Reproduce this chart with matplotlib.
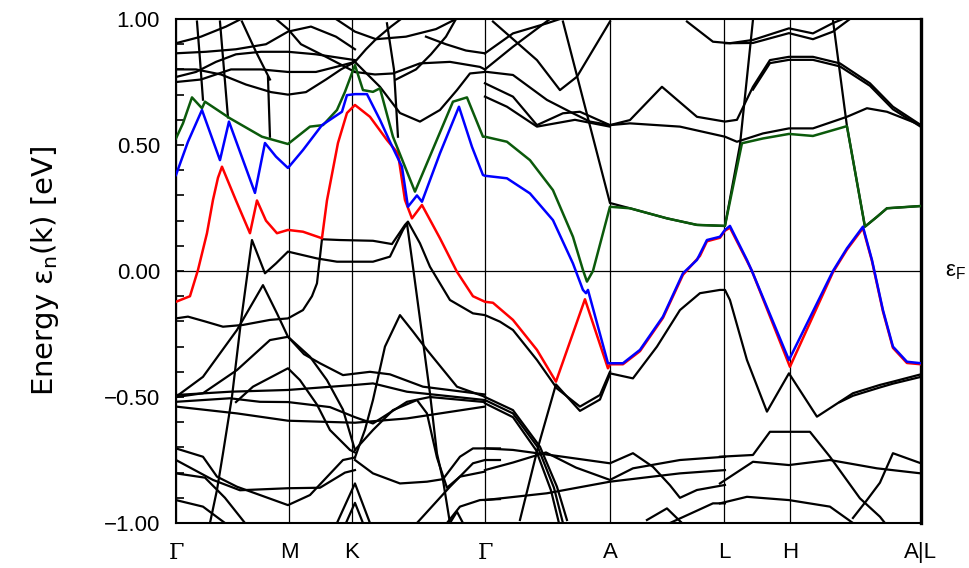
import matplotlib.pyplot as plt

# k-path (k-point index along path) and labels
kticks = [0, 113, 176, 309, 434, 548, 614, 745]
klabels = ["Γ", "M", "K", "Γ", "A", "L", "H", "A|L"]

# highlighted bands: (k, E in eV)
red_band = [(0, -0.122), (14, -0.10), (22, 0.004), (31, 0.15), (37, 0.282), (42, 0.37), (46, 0.414),
            (60, 0.28), (74, 0.15), (81, 0.28), (90, 0.20), (101, 0.15), (112, 0.163), (127, 0.156),
            (146, 0.13), (151, 0.28), (162, 0.508), (171, 0.627), (179, 0.659), (194, 0.612), (211, 0.52),
            (222, 0.467), (229, 0.282), (236, 0.209), (246, 0.262), (264, 0.13), (281, -0.003), (297, -0.10),
            (309, -0.122), (317, -0.126), (337, -0.194), (361, -0.313), (380, -0.439), (409, -0.112),
            (432, -0.386), (434, -0.37), (447, -0.37), (464, -0.318), (487, -0.186), (507, -0.015),
            (524, 0.06), (531, 0.118), (544, 0.132), (549, 0.16), (554, 0.172), (571, 0.04), (576, 0.0),
            (614, -0.38), (657, -0.005), (671, 0.085), (687, 0.17), (696, 0.04), (707, -0.16),
            (717, -0.305), (731, -0.365), (745, -0.37)]
blue_band = [(0, 0.381), (12, 0.513), (26, 0.639), (44, 0.44), (53, 0.593), (79, 0.31), (89, 0.508),
             (100, 0.454), (112, 0.409), (127, 0.48), (146, 0.579), (166, 0.632), (171, 0.698), (179, 0.702),
             (191, 0.702), (204, 0.60), (214, 0.513), (226, 0.414), (232, 0.255), (241, 0.30), (246, 0.275),
             (264, 0.467), (283, 0.652), (296, 0.493), (307, 0.381), (309, 0.378), (331, 0.368), (354, 0.308),
             (377, 0.202), (397, 0.03), (407, -0.075), (410, -0.088), (412, -0.075), (432, -0.366),
             (447, -0.366), (464, -0.313), (487, -0.181), (507, -0.009), (521, 0.044), (531, 0.123),
             (544, 0.136), (549, 0.163), (554, 0.179), (571, 0.044), (576, 0.0), (613, -0.353), (657, 0.0),
             (671, 0.09), (687, 0.176), (696, 0.044), (707, -0.155), (717, -0.30), (731, -0.36), (745, -0.366)]
green_band = [(0, 0.526), (7, 0.586), (16, 0.689), (26, 0.646), (29, 0.672), (54, 0.606), (86, 0.533),
              (112, 0.504), (134, 0.573), (147, 0.579), (161, 0.639), (169, 0.711), (179, 0.817), (187, 0.718),
              (197, 0.711), (204, 0.725), (217, 0.533), (239, 0.315), (277, 0.672), (291, 0.689), (307, 0.533),
              (309, 0.533), (331, 0.513), (354, 0.44), (377, 0.321), (397, 0.136), (407, 0.004), (411, -0.042),
              (417, 0.0), (434, 0.255), (454, 0.249), (491, 0.209), (521, 0.183), (549, 0.179), (566, 0.507),
              (587, 0.526), (613, 0.544), (637, 0.536), (671, 0.575), (689, 0.176), (701, 0.215), (711, 0.249),
              (745, 0.258)]

# other bands (black)
b01 = [(0, -0.188), (12, -0.181), (29, -0.20), (47, -0.221), (67, -0.214), (94, -0.194), (112, -0.188),
       (127, -0.155), (136, -0.10), (141, -0.049), (146, 0.126), (164, 0.123), (197, 0.12), (216, 0.107),
       (229, 0.183), (232, 0.196), (244, 0.11), (254, 0.017), (274, -0.115), (297, -0.168), (309, -0.175),
       (324, -0.201), (337, -0.234), (361, -0.353), (381, -0.466), (404, -0.538), (424, -0.492), (434, -0.40)]
b01b = [(344, -0.988), (362, -0.70), (380, -0.45), (404, -0.555), (424, -0.51), (434, -0.41)]
b02 = [(34, -1.0), (41, -0.869), (47, -0.724), (56, -0.499), (65, -0.20), (76, 0.123), (89, -0.009),
       (100, 0.03), (112, 0.077), (141, 0.05), (161, 0.037), (197, 0.037), (214, 0.057), (227, 0.163),
       (231, 0.189), (237, 0.017), (254, -0.485), (261, -0.724), (267, -0.829), (274, -1.0)]
b03 = [(0, -0.499), (27, -0.42), (61, -0.234), (87, -0.056), (101, -0.168), (112, -0.261), (128, -0.33),
       (144, -0.366), (167, -0.413), (194, -0.40), (214, -0.41), (247, -0.459), (309, -0.49)]
b04 = [(0, -0.50), (27, -0.485), (61, -0.393), (94, -0.274), (112, -0.261), (134, -0.34), (151, -0.433),
       (167, -0.55), (179, -0.71)]
b05 = [(60, -0.52), (77, -0.459), (112, -0.386), (124, -0.433), (141, -0.53), (154, -0.631), (174, -0.71),
       (179, -0.72)]
b06 = [(0, -0.492), (54, -0.479), (112, -0.472), (179, -0.452), (197, -0.446), (231, -0.479), (309, -0.512)]
b07 = [(0, -0.519), (54, -0.505), (84, -0.519), (112, -0.52), (154, -0.54), (179, -0.58), (197, -0.605),
       (231, -0.519), (254, -0.50), (309, -0.52)]
b08 = [(0, -0.538), (61, -0.565), (112, -0.594), (179, -0.602), (231, -0.585), (309, -0.538)]
b09 = [(0, -0.704), (27, -0.737), (41, -0.816), (61, -0.856), (112, -0.929), (134, -0.889), (167, -0.75),
       (179, -0.74)]
b10 = [(0, -0.75), (37, -0.829), (64, -0.87), (112, -0.862), (144, -0.86), (169, -0.80), (179, -0.79)]
b11 = [(0, -0.803), (29, -0.82), (49, -0.90), (69, -1.0)]
b12 = [(0, -0.909), (27, -0.935), (49, -1.0)]
b13 = [(161, -1.0), (179, -0.843), (194, -1.0)]
b14 = [(170, -1.0), (179, -0.92), (187, -1.0)]
b15 = [(179, -0.71), (197, -0.631), (217, -0.552), (241, -0.512), (251, -0.565), (261, -0.74), (271, -0.86),
       (284, -0.816), (309, -0.796)]
b16 = [(179, -0.75), (197, -0.803), (224, -0.843), (251, -0.836), (267, -0.826), (284, -0.737), (297, -0.704),
       (324, -0.704)]
b17 = [(241, -1.0), (274, -0.856), (297, -0.763), (309, -0.75), (324, -0.75)]
b18 = [(271, -1.0), (284, -0.935), (304, -0.909), (324, -0.905)]
b19 = [(274, -1.0), (281, -0.955), (287, -1.0)]
b20 = [(179, -0.74), (189, -0.63), (197, -0.512), (209, -0.30), (224, -0.175), (237, -0.24), (251, -0.313),
       (281, -0.459), (309, -0.499)]
b21a = [(309, -0.50), (337, -0.552), (364, -0.697), (381, -0.856), (391, -0.988)]
b21b = [(309, -0.512), (337, -0.565), (362, -0.70), (378, -0.86), (387, -1.0)]
b21c = [(309, -0.525), (337, -0.58), (360, -0.71), (375, -0.87), (383, -1.0)]
b24 = [(309, -0.704), (337, -0.71), (387, -0.737), (434, -0.763), (457, -0.723), (477, -0.777), (494, -0.85),
       (504, -0.90), (521, -0.869), (549, -0.849)]
b25 = [(309, -0.79), (337, -0.76), (370, -0.72), (400, -0.78), (434, -0.829), (457, -0.783), (504, -0.75),
       (549, -0.737)]
b26 = [(309, -0.909), (371, -0.882), (434, -0.836), (504, -0.803), (549, -0.79)]
b27 = [(471, -0.988), (491, -0.942), (506, -1.0)]
b28 = [(494, -1.0), (537, -0.922), (549, -0.922)]
b30 = [(317, 0.99), (361, 0.837), (384, 0.718), (401, 0.771), (434, 0.99)]
b31 = [(387, 0.99), (434, 0.27), (454, 0.249), (491, 0.209), (521, 0.183), (549, 0.179), (564, 0.50), (577, 0.996)]
b32 = [(309, 0.791), (337, 0.778), (371, 0.679), (397, 0.626), (414, 0.593), (434, 0.579), (454, 0.599),
       (486, 0.731), (521, 0.612), (549, 0.593), (561, 0.60), (577, 0.731), (594, 0.837), (613, 0.85),
       (637, 0.85), (664, 0.824), (694, 0.745), (717, 0.652), (745, 0.579)]
b32b = [(577, 0.72), (594, 0.825), (613, 0.838), (637, 0.838), (664, 0.812), (694, 0.735), (717, 0.642),
        (745, 0.572)]
b33 = [(309, 0.745), (337, 0.692), (361, 0.579), (387, 0.626), (404, 0.632), (434, 0.579), (454, 0.586),
       (504, 0.573), (549, 0.533), (561, 0.513), (587, 0.546), (613, 0.566), (637, 0.566), (671, 0.612),
       (691, 0.646), (711, 0.632), (745, 0.579)]
b34 = [(309, 0.692), (331, 0.652), (361, 0.573), (399, 0.60), (434, 0.573)]
b35 = [(309, 0.864), (337, 0.943), (371, 0.983), (384, 1.0)]
b36 = [(309, 0.80), (337, 0.89), (374, 1.0)]
b37 = [(511, 0.99), (537, 0.91), (554, 0.904), (577, 0.917), (613, 0.963), (637, 0.943), (657, 0.984), (667, 1.0)]
b38 = [(549, 0.904), (577, 0.905), (613, 0.944), (637, 0.92), (657, 0.95), (674, 1.0)]
b39 = [(657, 0.996), (671, 0.575), (689, 0.176), (701, 0.215), (711, 0.249), (745, 0.258)]
b42 = [(434, -0.406), (457, -0.426), (481, -0.30), (504, -0.155), (524, -0.088), (544, -0.075), (549, -0.075),
       (554, -0.115), (571, -0.353), (591, -0.558), (613, -0.406), (641, -0.578), (677, -0.485), (704, -0.452),
       (717, -0.439), (742, -0.413), (745, -0.41)]
b42b = [(664, -0.52), (677, -0.495), (704, -0.462), (717, -0.447), (745, -0.42)]
b43 = [(544, -0.737), (577, -0.73), (594, -0.638), (613, -0.638), (634, -0.638), (654, -0.737), (684, -0.902),
       (704, -0.975), (709, -1.0)]
b44 = [(544, -0.843), (577, -0.757), (613, -0.77), (654, -0.75), (701, -0.783), (745, -0.803)]
b45 = [(544, -0.922), (571, -0.896), (613, -0.909), (654, -0.935), (677, -1.0)]
b46 = [(677, -0.98), (691, -0.909), (704, -0.84), (717, -0.723), (745, -0.763)]
# upper Gamma-M-K-Gamma
u01 = [(0, 0.80), (20, 0.80), (45, 0.78), (70, 0.74), (95, 0.71), (112, 0.70), (130, 0.71), (150, 0.76),
       (165, 0.80), (179, 0.83)]
u02 = [(0, 0.75), (25, 0.76), (55, 0.80), (85, 0.80), (112, 0.79), (140, 0.79), (160, 0.81), (179, 0.83)]
u03 = [(0, 0.864), (30, 0.87), (60, 0.88), (90, 0.90), (112, 0.95), (135, 0.97), (160, 0.93), (179, 0.88)]
u04 = [(0, 0.904), (25, 0.93), (50, 0.97), (65, 1.0)]
u05 = [(0, 0.77), (20, 0.79), (40, 0.83), (60, 0.86), (85, 0.87), (112, 0.87), (140, 0.86), (179, 0.837)]
s01 = [(21, 0.99), (24, 0.84), (27, 0.68)]
s02 = [(44, 0.99), (48, 0.80), (52, 0.61)]
s03 = [(66, 0.99), (80, 0.87), (94, 0.76)]
s04 = [(92, 0.77), (93, 0.65), (94, 0.533)]
u07 = [(100, 1.0), (112, 0.96), (125, 0.90), (150, 0.85), (179, 0.79)]
u08 = [(179, 0.83), (190, 0.88), (200, 0.92), (215, 0.97), (225, 1.0)]
k01 = [(179, 0.83), (184, 0.81), (204, 0.731), (224, 0.627), (244, 0.593), (264, 0.639), (281, 0.718),
       (294, 0.784), (309, 0.79)]
k02 = [(179, 0.79), (199, 0.78), (217, 0.784), (244, 0.824), (274, 0.83), (304, 0.81), (309, 0.80)]
k03 = [(211, 0.983), (218, 0.80), (222, 0.533)]
k04 = [(160, 1.0), (179, 0.95), (200, 0.92), (230, 0.93), (260, 0.96), (280, 1.0)]
k06 = [(220, 0.76), (240, 0.80), (255, 0.86), (270, 0.93), (280, 1.0)]
k07 = [(250, 0.93), (270, 0.90), (290, 0.875), (309, 0.864)]

black_bands = [b01, b01b, b02, b03, b04, b05, b06, b07, b08, b09, b10, b11, b12, b13, b14, b15, b16, b17,
               b18, b19, b20, b21a, b21b, b21c, b24, b25, b26, b27, b28, b30, b31, b32, b32b, b33, b34,
               b35, b36, b37, b38, b39, b42, b42b, b43, b44, b45, b46, u01, u02, u03, u04, u05, s01, s02,
               s03, s04, u07, u08, k01, k02, k03, k04, k06, k07]

plt.rcParams['font.family'] = ['Liberation Sans', 'DejaVu Sans']
FS = 16

fig = plt.figure(figsize=(9.69, 5.68), dpi=100)
ax = fig.add_axes([0.1816, 0.0792, 0.7688, 0.8873])

for kx in kticks:
    ax.axvline(kx, color='black', lw=0.9, zorder=1)
ax.axhline(0, color='black', lw=0.9, zorder=1)

for band in black_bands:
    ax.plot([p[0] for p in band], [p[1] for p in band], color='black', lw=1.6, zorder=2)
ax.plot([p[0] for p in red_band], [p[1] for p in red_band], color='#ff0000', lw=1.8, zorder=3)
ax.plot([p[0] for p in green_band], [p[1] for p in green_band], color='#0b5a0b', lw=1.8, zorder=3)
ax.plot([p[0] for p in blue_band], [p[1] for p in blue_band], color='#0000ff', lw=1.8, zorder=4)

ax.set_xlim(kticks[0], kticks[-1])
ax.set_ylim(-1.0, 1.0)
ax.set_yticks([-1.0, -0.5, 0.0, 0.5, 1.0])
ax.set_yticklabels(["\u22121.00", "\u22120.50", "0.00", "0.50", "1.00"])
ax.set_yticks([-0.9, -0.8, -0.7, -0.6, -0.4, -0.3, -0.2, -0.1, 0.1, 0.2, 0.3, 0.4, 0.6, 0.7, 0.8, 0.9],
              minor=True)
ax.tick_params(axis='y', which='both', direction='in', length=6, width=1.2, labelsize=FS, pad=11.5)
ax.set_xticks(kticks)
ax.set_xticklabels(klabels)
ax.tick_params(axis='x', length=0, labelsize=FS, pad=14)
for lab in ax.get_xticklabels():
    if lab.get_text() == "Γ":
        lab.set_family('DejaVu Serif')
for sp in ax.spines.values():
    sp.set_linewidth(1.5)
ax.spines['right'].set_linewidth(2.4)

ax.set_ylabel("Energy ε$_{\\mathregular{n}}$(k) [eV]", fontsize=21, family='DejaVu Sans', labelpad=31)
ax.text(1.032, 0.5, "ε$_{\\mathregular{F}}$", transform=ax.transAxes, fontsize=FS, ha='left', va='center')

fig.savefig("out.png", dpi=100)
